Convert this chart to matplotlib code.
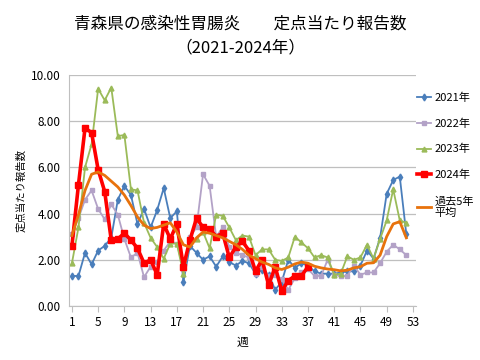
import matplotlib
matplotlib.use('Agg')
import matplotlib.pyplot as plt

plt.rcParams['font.family'] = ['Noto Sans CJK JP', 'DejaVu Sans']

#------------------DATA------------------#
weeks = list(range(1, 53))

y2021 = [1.3, 1.3, 2.3, 1.8, 2.4, 2.6, 2.95, 4.6, 5.2, 4.8,
         3.55, 4.2, 3.4, 4.15, 5.1, 3.8, 4.1, 1.05, 2.6, 2.3,
         2.0, 2.15, 1.7, 2.15, 1.9, 1.75, 1.95, 1.85, 1.4, 1.55,
         1.35, 0.7, 1.05, 2.0, 1.65, 1.85, 1.75, 1.5, 1.4, 1.4,
         1.4, 1.45, 1.5, 1.5, 1.75, 2.4, 2.05, 2.95, 4.85, 5.45,
         5.6, 3.1]

y2022 = [3.1, 3.8, 4.6, 5.0, 4.2, 3.75, 4.4, 3.95, 2.9, 2.1,
         2.3, 1.25, 1.7, 1.9, 2.4, 2.8, 2.7, 1.6, 3.0, 3.4,
         5.7, 5.2, 3.0, 3.4, 2.55, 2.3, 2.2, 2.1, 1.4, 1.7,
         1.3, 1.35, 1.15, 0.7, 1.2, 1.45, 1.6, 1.3, 1.3, 2.0,
         1.35, 1.3, 1.3, 1.75, 1.35, 1.45, 1.45, 1.85, 2.35, 2.65,
         2.45, 2.2]

y2023 = [1.85, 3.4, 6.0, 7.0, 9.4, 8.9, 9.45, 7.35, 7.4, 5.05,
         5.0, 3.6, 2.95, 2.55, 2.05, 2.7, 2.7, 1.4, 2.8, 2.9,
         3.2, 2.5, 3.95, 3.9, 3.4, 2.85, 3.05, 3.0, 2.2, 2.45,
         2.45, 2.0, 1.95, 2.1, 3.0, 2.75, 2.5, 2.1, 2.2, 2.1,
         1.35, 1.4, 2.15, 2.0, 2.1, 2.65, 2.05, 2.9, 3.7, 5.05,
         3.7, 3.6]

# 2024 reported up to week 37
y2024 = [2.6, 5.25, 7.7, 7.5, 5.9, 4.95, 2.85, 2.9, 3.15, 2.85,
         2.5, 1.85, 2.0, 1.35, 3.55, 2.9, 3.55, 1.7, 2.85, 3.8,
         3.4, 3.35, 3.0, 3.15, 2.1, 2.55, 2.8, 2.4, 1.5, 2.0,
         0.9, 1.7, 0.65, 1.1, 1.3, 1.3, 1.7]

avg5 = [3.05, 3.95, 5.0, 5.7, 5.8, 5.65, 5.4, 5.15, 4.8, 4.35,
        3.85, 3.5, 3.35, 3.4, 3.5, 3.6, 3.2, 2.65, 2.55, 2.95,
        3.2, 3.15, 3.05, 2.95, 2.8, 2.65, 2.45, 2.2, 2.05, 1.9,
        1.8, 1.65, 1.58, 1.68, 1.82, 1.9, 1.85, 1.72, 1.65, 1.6,
        1.57, 1.52, 1.55, 1.65, 1.7, 1.85, 1.87, 2.2, 3.0, 3.55,
        3.65, 2.95]

xticks = list(range(1, 54, 4))
yticks = [0, 2, 4, 6, 8, 10]

#------------------PLOT------------------#
fig = plt.figure(figsize=(4.8, 3.6), dpi=100)
ax = fig.add_axes([0.143, 0.15, 0.724, 0.642])

ax.plot(weeks, y2021, color='#4a7ebb', lw=1.3, marker='d', ms=3.5, label='2021年')
ax.plot(weeks, y2022, color='#b3a2c7', lw=1.3, marker='s', ms=3.5, label='2022年')
ax.plot(weeks, y2023, color='#9bbb59', lw=1.3, marker='^', ms=3.5, label='2023年')
ax.plot(weeks[:len(y2024)], y2024, color='#ff0000', lw=2.6, marker='s', ms=5, label='2024年')
ax.plot(weeks, avg5, color='#e8720c', lw=2.0, label='過去5年\n平均')

ax.set_xlim(0.5, 53.5)
ax.set_ylim(0, 10)
ax.set_xticks(xticks)
ax.set_yticks(yticks)
ax.set_yticklabels(['%.2f' % v for v in yticks])
ax.tick_params(axis='x', labelsize=8.5, length=4, color='#bfbfbf', pad=3)
ax.tick_params(axis='y', labelsize=8.5, length=0, pad=6)

ax.grid(axis='y', color='#bfbfbf', lw=0.9)
ax.set_axisbelow(True)
for s in ['top', 'right']:
    ax.spines[s].set_visible(False)
ax.spines['left'].set_color('#bfbfbf')
ax.spines['bottom'].set_color('#bfbfbf')

ax.set_xlabel('週', fontsize=8.5, labelpad=5)
ax.set_ylabel('定点当たり報告数', fontsize=7.5, labelpad=3)

fig.text(0.5, 0.932, '青森県の感染性胃腸炎　　定点当たり報告数', ha='center', va='center', fontsize=12)
fig.text(0.5, 0.868, '（2021-2024年）', ha='center', va='center', fontsize=12)

ax.legend(loc='upper left', bbox_to_anchor=(1.002, 0.925), frameon=False,
          borderaxespad=0, borderpad=0,
          fontsize=8, handlelength=1.3, handletextpad=0.3, labelspacing=1.4)

fig.savefig('out.png', dpi=100)
